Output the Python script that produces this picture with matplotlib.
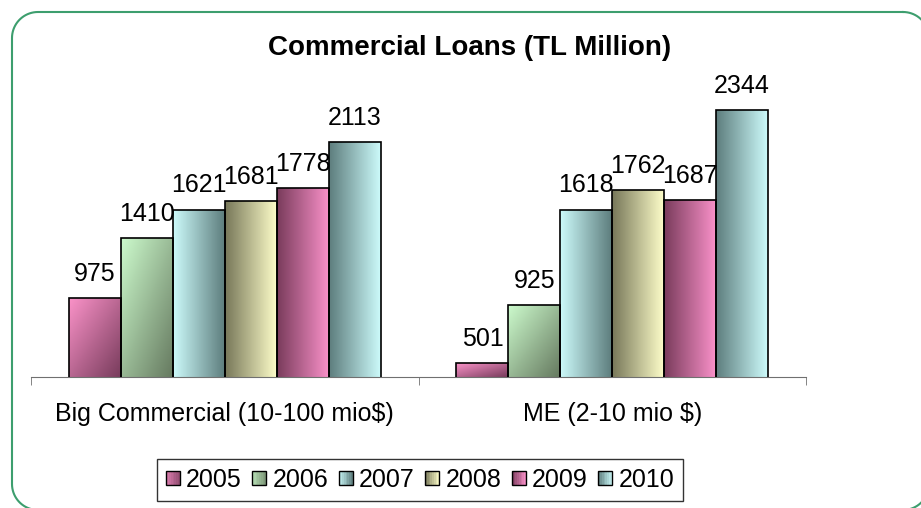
import numpy as np
import matplotlib
matplotlib.use('Agg')
import matplotlib.pyplot as plt
from matplotlib.colors import LinearSegmentedColormap
from matplotlib.patches import Rectangle
from matplotlib.legend_handler import HandlerBase

plt.rcParams['font.family'] = ['Liberation Sans', 'DejaVu Sans']

categories = ['Big Commercial (10-100 mio$)', 'ME (2-10 mio $)']
years = ['2005', '2006', '2007', '2008', '2009', '2010']
values = {
    '2005': [975, 501],
    '2006': [1410, 925],
    '2007': [1621, 1618],
    '2008': [1681, 1762],
    '2009': [1778, 1687],
    '2010': [2113, 2344],
}

# (first colour, second colour, direction) for each year's fill
fills = {
    '2005': ('#fa92c8', '#783c5c', 'diag'),
    '2006': ('#ccfacc', '#667a60', 'diag'),
    '2007': ('#ccfafa', '#5e7e7e', 'horiz'),
    '2008': ('#78785a', '#fcfcc8', 'horiz'),
    '2009': ('#7a3c5c', '#f890c8', 'horiz'),
    '2010': ('#5e7e7e', '#ccfafa', 'horiz'),
}


def gradient(kind, n=64):
    xx, yy = np.meshgrid(np.linspace(0, 1, n), np.linspace(0, 1, n))
    if kind == 'diag':
        return (xx + (1 - yy)) / 2
    return xx


def rounded_outline(x0, y0, x1, y1, r, n=20):
    # closed outline of a rounded rectangle, y growing downwards
    pts = []
    corners = [(x1 - r, y0 + r, -90, 0), (x1 - r, y1 - r, 0, 90),
               (x0 + r, y1 - r, 90, 180), (x0 + r, y0 + r, 180, 270)]
    for cx, cy, a0, a1 in corners:
        a = np.radians(np.linspace(a0, a1, n))
        pts.append(np.column_stack([cx + r * np.cos(a), cy + r * np.sin(a)]))
    pts = np.vstack(pts)
    return np.vstack([pts, pts[:1]])


fig = plt.figure(figsize=(9.21, 5.08), dpi=100)

# full-figure axes in pixel units for the rounded frame
bg = fig.add_axes([0, 0, 1, 1], zorder=-1)
bg.set_xlim(0, 921)
bg.set_ylim(508, 0)
bg.axis('off')
outline = rounded_outline(12, 12, 929, 510, 26)
bg.plot(outline[:, 0], outline[:, 1], color='#3d9e6e', lw=1.5)

ax = fig.add_axes([31 / 921, 1 - 377 / 508, 775 / 921, 288 / 508])
ax.patch.set_alpha(0)

ymin, ymax = 400, 2500
x = np.arange(len(categories))
w = 0.134
cmaps = {}
for i, yr in enumerate(years):
    c1, c2, kind = fills[yr]
    cmap = LinearSegmentedColormap.from_list('g' + yr, [c1, c2])
    cmaps[yr] = (cmap, kind)
    bars = ax.bar(x + (i - 2.5) * w, values[yr], w, facecolor='none',
                  edgecolor='black', linewidth=1.2, zorder=3)
    for rect, v in zip(bars, values[yr]):
        x0 = rect.get_x()
        y0 = max(rect.get_y(), ymin)
        im = ax.imshow(gradient(kind), cmap=cmap, origin='lower', aspect='auto',
                       extent=[x0, x0 + rect.get_width(), y0, rect.get_height()],
                       interpolation='bilinear', zorder=2)
        im.set_clip_path(rect)
        ax.annotate(str(v), (rect.get_x() + rect.get_width() / 2, rect.get_height()),
                    xytext=(0, 9), textcoords='offset points',
                    ha='center', va='bottom', fontsize=18, zorder=4)

ax.set_xlim(-0.5, 1.5)
ax.set_ylim(ymin, ymax)
for s in ['top', 'right', 'left']:
    ax.spines[s].set_visible(False)
ax.spines['bottom'].set_color('#707070')
ax.set_yticks([])
ax.set_xticks(x)
ax.set_xticklabels(categories, fontsize=18)
ax.tick_params(axis='x', which='major', length=0, pad=18)
ax.set_xticks([-0.5, 0.5, 1.5], minor=True)
ax.tick_params(axis='x', which='minor', length=6, color='#707070', direction='out')


class GradientHandler(HandlerBase):
    def __init__(self, cmap, kind):
        super().__init__()
        self.cmap = cmap
        self.kind = kind

    def create_artists(self, legend, orig_handle, xdescent, ydescent,
                       width, height, fontsize, trans):
        arts = []
        n = 8
        for k in range(n):
            t = (k + 0.5) / n
            col = self.cmap(t if self.kind == 'horiz' else 0.2 + 0.6 * t)
            arts.append(Rectangle((-xdescent + k * width / n, -ydescent), width / n, height,
                                  facecolor=col, edgecolor='none', transform=trans))
        arts.append(Rectangle((-xdescent, -ydescent), width, height, facecolor='none',
                              edgecolor='black', linewidth=1.0, transform=trans))
        return arts


handles = [Rectangle((0, 0), 1, 1) for _ in years]
hmap = {h: GradientHandler(*cmaps[yr]) for h, yr in zip(handles, years)}
leg = fig.legend(handles, years, handler_map=hmap, loc='center',
                 bbox_to_anchor=(420 / 921, 1 - 480 / 508), ncol=6, fontsize=18,
                 handlelength=0.56, handleheight=0.5, handletextpad=0.25,
                 columnspacing=0.42, borderpad=0.35, borderaxespad=0,
                 fancybox=False, frameon=True)
leg.get_frame().set_edgecolor('black')
leg.get_frame().set_linewidth(1.0)

fig.text(470 / 921, 1 - 48 / 508, 'Commercial Loans (TL Million)', ha='center',
         va='center', fontsize=20, fontweight='bold')

fig.savefig('out.png', dpi=100)
